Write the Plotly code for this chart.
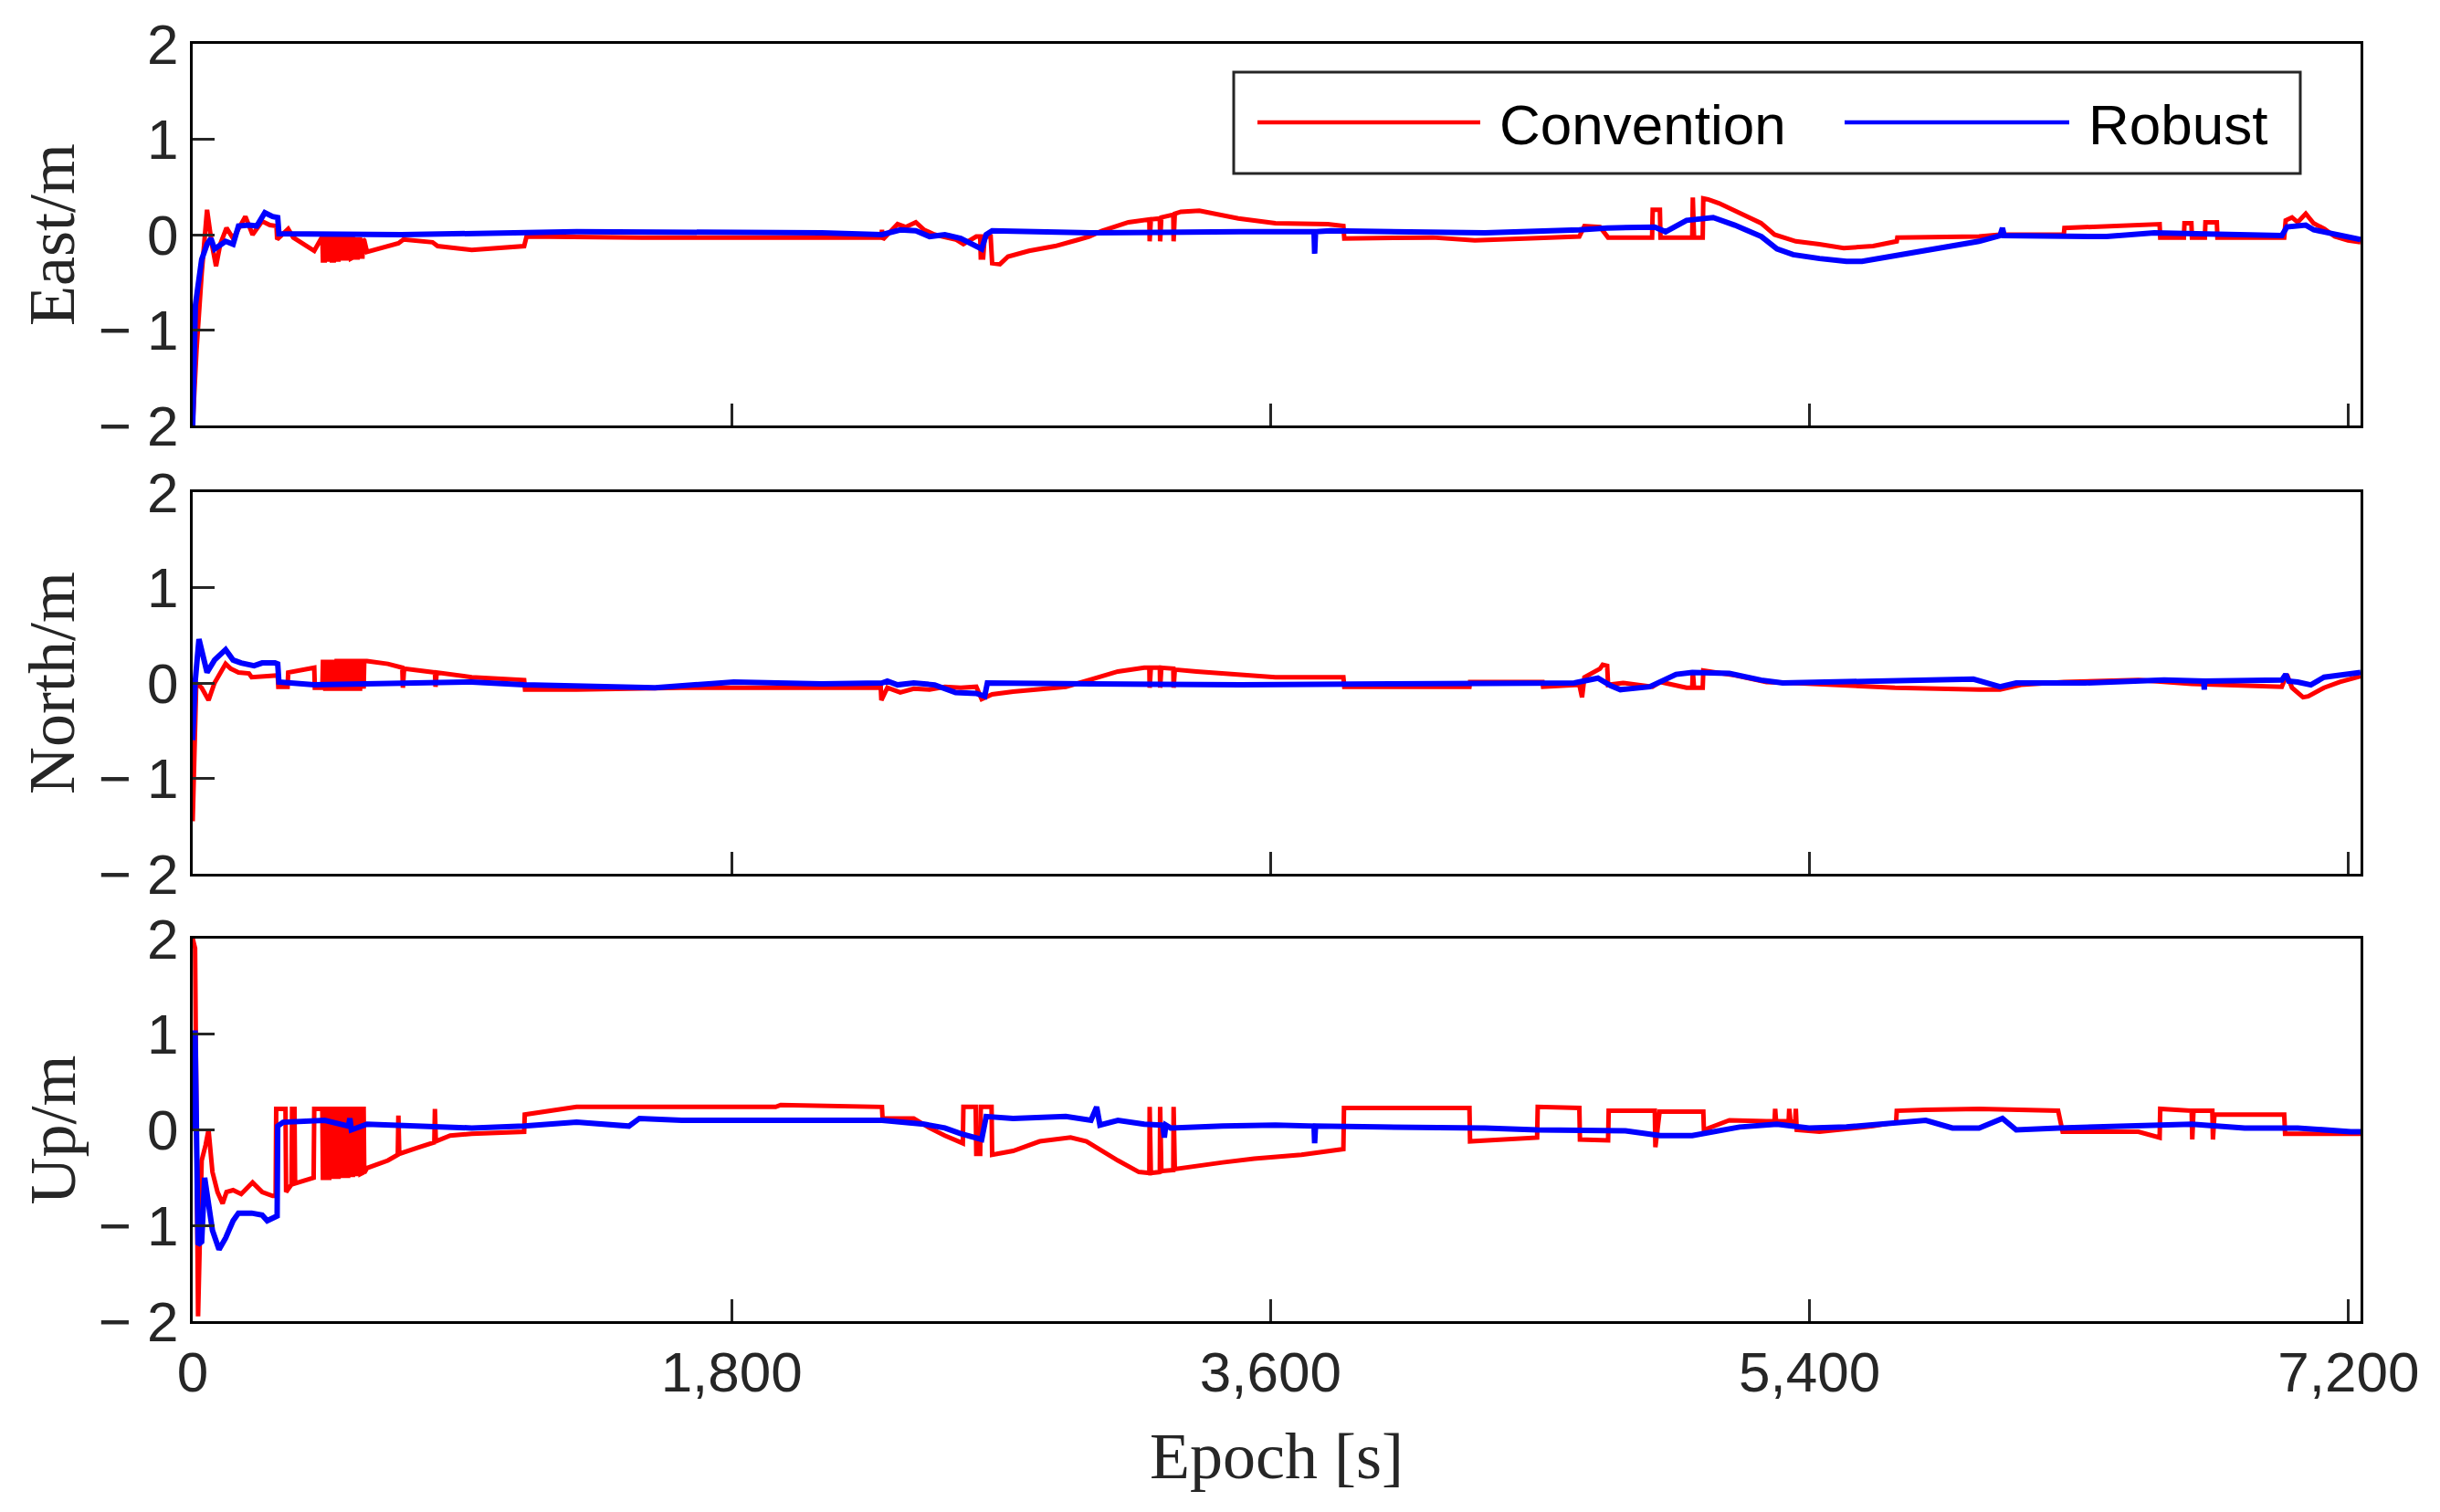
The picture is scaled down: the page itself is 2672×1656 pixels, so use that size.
import plotly.graph_objects as go

# ---------------- data ----------------
series_names = ["Convention", "Robust"]
panel_titles = ["East/m", "North/m", "Up/m"]
x_tickvals = [0, 1800, 3600, 5400, 7200]
x_ticktext = ["0", "1,800", "3,600", "5,400", "7,200"]
y_tickvals = [-2, -1, 0, 1, 2]
y_ticktext = ["\u2212 2", "\u2212 1", "0", "1", "2"]
x_max = 7240

east_conv_t = [0, 13, 30, 48, 64, 78, 92, 113, 135, 176, 200, 232, 258, 280, 282, 319, 336, 406,
               433, 435, 441, 443, 448, 450, 456, 458, 463, 465, 471, 473, 479, 481, 487, 489,
               495, 497, 503, 505, 511, 513, 519, 521, 527, 529, 535, 537, 543, 545, 551, 553,
               559, 561, 567, 569, 573, 582,
               687, 704, 801, 818, 932, 1107, 1115, 1500, 2040, 2300, 2302, 2305, 2354, 2381,
               2415, 2443, 2478, 2548, 2574, 2617, 2630, 2632, 2640, 2645, 2665, 2670, 2696,
               2723, 2793, 2880, 2950, 2994, 3037, 3125, 3195, 3196, 3200, 3230, 3231, 3235,
               3275, 3276, 3280, 3300, 3362, 3423, 3492, 3616, 3791, 3843, 3846, 4141, 4282,
               4450, 4631, 4648, 4700, 4727, 4874, 4876, 4900, 4902, 5008, 5010, 5014, 5043,
               5045, 5061, 5097, 5150, 5238, 5283, 5310, 5354, 5433, 5514, 5612, 5691, 5693,
               5966, 6036, 6249, 6251, 6569, 6571, 6650, 6652, 6675, 6677, 6720, 6722, 6760,
               6762, 6985, 6990, 7011, 7030, 7057, 7083, 7119, 7154, 7198, 7240]
east_conv_v = [-2.0, -1.2, -0.41, 0.26, -0.1, -0.33, -0.1, 0.07, -0.04, 0.19, 0.0, 0.14, 0.10, 0.09, -0.05, 0.06, -0.03, -0.17,
               -0.02, -0.27, -0.27, -0.03, -0.03, -0.26, -0.26, -0.02, -0.02, -0.27, -0.27, -0.03, -0.03, -0.26, -0.26, -0.03,
               -0.03, -0.25, -0.25, -0.03, -0.03, -0.25, -0.25, -0.04, -0.04, -0.25, -0.24, -0.04, -0.05, -0.24, -0.24, -0.05,
               -0.05, -0.23, -0.23, -0.05, -0.06, -0.18,
               -0.09, -0.05, -0.08, -0.12, -0.16, -0.12, -0.02, -0.03, -0.03, -0.03, 0.05, -0.05, 0.11, 0.08,
               0.13, 0.05, 0.0, -0.05, -0.1, -0.02, -0.02, -0.24, -0.24, -0.02, -0.02, -0.3, -0.31,
               -0.23, -0.17, -0.12, -0.06, -0.02, 0.04, 0.13, 0.16, -0.07, 0.16, 0.17, -0.07, 0.18,
               0.21, -0.07, 0.22, 0.24, 0.25, 0.21, 0.17, 0.12, 0.11, 0.09, -0.04, -0.03, -0.06,
               -0.04, -0.02, 0.09, 0.08, -0.03, -0.03, 0.26, 0.26, -0.03, -0.03, 0.39, -0.03, -0.03,
               0.38, 0.37, 0.33, 0.25, 0.12, 0.0, -0.03, -0.07, -0.10, -0.14, -0.12, -0.07, -0.03,
               -0.02, 0.0, 0.0, 0.07, 0.11, -0.03, -0.03, 0.12, 0.12, -0.03, -0.03, 0.13, 0.13,
               -0.03, -0.03, 0.15, 0.18, 0.13, 0.22, 0.12, 0.06, -0.02, -0.06, -0.08]

east_rob_t = [0, 9, 30, 48, 61, 73, 110, 135, 153, 188, 214, 241, 267, 284, 288, 696, 1282, 2101,
              2302, 2363, 2415, 2461, 2512, 2565, 2635, 2650, 2670, 3000, 3500, 3745, 3747, 3750,
              3800, 4316, 4631, 4724, 4883, 4919, 4989, 5078, 5150, 5239, 5291, 5345, 5433, 5523,
              5575, 5699, 5824, 5966, 6036, 6044, 6050, 6249, 6392, 6551, 6977, 6994, 7057, 7084,
              7207, 7240]
east_rob_v = [-2.0, -0.74, -0.26, -0.1, -0.04, -0.15, -0.07, -0.1, 0.09, 0.1, 0.09, 0.23, 0.19, 0.18, 0.01, 0.0, 0.03, 0.02,
              0.0, 0.05, 0.04, -0.02, 0.0, -0.04, -0.15, 0.0, 0.04, 0.02, 0.03, 0.03, -0.2, 0.03,
              0.04, 0.02, 0.05, 0.07, 0.08, 0.03, 0.15, 0.18, 0.1, -0.02, -0.15, -0.21, -0.25, -0.28,
              -0.28, -0.21, -0.15, -0.07, -0.01, 0.07, -0.01, -0.01, -0.02, 0.02, -0.01, 0.08, 0.1, 0.05,
              -0.02, -0.05]

north_conv_t = [0, 12, 30, 53, 73, 110, 127, 153, 188, 197, 284, 286, 317, 319, 406, 408,
                433, 435, 441, 443, 448, 450, 456, 458, 463, 465, 471, 473, 479, 481, 487, 489,
                495, 497, 503, 505, 511, 513, 519, 521, 527, 529, 535, 537, 543, 545, 551, 553,
                559, 561, 567, 569, 571, 573,
                582, 652, 700, 702, 706, 809, 811, 815, 932, 1107, 1110, 1282, 1633, 2101,
                2298, 2300, 2320, 2363, 2408, 2461, 2512, 2565, 2617, 2635, 2670, 2740, 2916,
                3003, 3090, 3178, 3195, 3196, 3200, 3230, 3231, 3235, 3275, 3276, 3280, 3353,
                3476, 3616, 3843, 3846, 4264, 4266, 4508, 4510, 4631, 4640, 4648, 4700, 4709,
                4724, 4727, 4777, 4875, 4902, 4989, 5008, 5010, 5014, 5043, 5045, 5150, 5256,
                5345, 5683, 5685, 5966, 6036, 6106, 6249, 6498, 6676, 6977, 6994, 7011, 7048,
                7065, 7118, 7171, 7240]
north_conv_v = [-1.45, 0.0, -0.05, -0.18, 0.0, 0.2, 0.15, 0.11, 0.1, 0.06, 0.08, -0.04, -0.04, 0.11, 0.16, -0.05,
                -0.05, 0.22, 0.22, -0.06, -0.06, 0.22, 0.22, -0.06, -0.06, 0.22, 0.22, -0.06, -0.06, 0.23, 0.23, -0.06,
                -0.06, 0.23, 0.23, -0.06, -0.06, 0.23, 0.23, -0.06, -0.06, 0.23, 0.23, -0.06, -0.06, 0.23, 0.23, -0.06,
                -0.06, 0.23, 0.23, -0.06, -0.06, 0.23,
                0.23, 0.2, 0.16, -0.05, 0.15, 0.11, -0.04, 0.11, 0.06, 0.03, -0.07, -0.07, -0.05, -0.05,
                -0.05, -0.18, -0.05, -0.1, -0.06, -0.07, -0.04, -0.05, -0.04, -0.17, -0.12, -0.09, -0.04,
                0.04, 0.12, 0.16, 0.16, -0.05, 0.16, 0.16, -0.05, 0.16, 0.15, -0.05, 0.14, 0.12,
                0.09, 0.06, 0.06, -0.04, -0.04, 0.01, 0.01, -0.04, -0.02, -0.15, 0.06, 0.15, 0.19,
                0.18, -0.02, 0.0, -0.04, 0.01, -0.05, -0.05, 0.13, -0.05, -0.05, 0.13, 0.08, 0.01,
                0.0, -0.04, -0.05, -0.07, -0.07, -0.02, 0.01, 0.03, -0.01, -0.04, 0.09, -0.05, -0.15,
                -0.14, -0.05, 0.01, 0.07]

north_rob_t = [0, 8, 21, 48, 73, 110, 135, 162, 205, 232, 275, 284, 288, 406, 932, 1107, 1544,
               1807, 2101, 2302, 2320, 2354, 2408, 2478, 2548, 2617, 2645, 2654, 3000, 3500,
               4000, 4614, 4693, 4736, 4768, 4866, 4954, 5008, 5132, 5238, 5310, 5433, 5788,
               5947, 6036, 6090, 6319, 6584, 6716, 6718, 6720, 6977, 6990, 7000, 7030, 7074,
               7118, 7240]
north_rob_v = [-0.6, 0.0, 0.46, 0.11, 0.24, 0.35, 0.24, 0.21, 0.18, 0.21, 0.21, 0.2, 0.01, -0.02, 0.01, -0.02, -0.05,
               0.01, -0.01, 0.0, 0.02, -0.02, 0.0, -0.02, -0.1, -0.11, -0.14, 0.0, -0.01, -0.02,
               -0.01, 0.0, 0.05, -0.03, -0.07, -0.04, 0.09, 0.11, 0.1, 0.03, 0.0, 0.01, 0.03,
               0.04, -0.04, 0.0, 0.0, 0.03, 0.02, -0.07, 0.02, 0.03, 0.09, 0.02, 0.01, -0.02,
               0.06, 0.11]

up_conv_t = [0, 8, 18, 30, 43, 53, 66, 83, 100, 113, 135, 162, 200, 232, 267, 277, 279, 310,
             312, 330, 332, 340, 342, 404, 406,
             433, 435, 441, 443, 448, 450, 456, 458, 463, 465, 471, 473, 479, 481, 487, 489,
             495, 497, 503, 505, 511, 513, 519, 521, 527, 529, 535, 537, 543, 545, 551, 553,
             559, 561, 567, 569, 571, 573,
             582, 652, 685, 687, 690,
             757, 807, 809, 812, 860, 932, 1107, 1109, 1282, 1633, 1947, 1964, 2101, 2302,
             2304, 2408, 2461, 2512, 2572, 2574, 2615, 2617, 2630, 2632, 2668, 2670, 2740,
             2829, 2932, 2985, 3090, 3160, 3195, 3196, 3200, 3230, 3231, 3235, 3275, 3276,
             3280, 3300, 3440, 3545, 3703, 3843, 3845, 4264, 4266, 4490, 4492, 4631, 4633,
             4727, 4729, 4883, 4885, 4899, 5045, 5047, 5132, 5256, 5283, 5285, 5288, 5330,
             5332, 5336, 5352, 5354, 5357, 5433, 5612, 5689, 5691, 5788, 5966, 6230, 6245,
             6498, 6569, 6571, 6676, 6678, 6682, 6745, 6747, 6752, 6985, 6988, 7240]
up_conv_v = [2.0, 1.9, -1.95, -0.32, -0.16, 0.0, -0.44, -0.65, -0.77, -0.65, -0.63, -0.67, -0.55, -0.65, -0.69, -0.69, 0.22, 0.22,
             -0.65, -0.57, 0.22, 0.22, -0.56, -0.5, 0.22,
             0.22, -0.5, -0.5, 0.22, 0.22, -0.5, -0.5, 0.22, 0.22, -0.49, -0.49, 0.22, 0.22, -0.49, -0.49, 0.22,
             0.22, -0.48, -0.48, 0.22, 0.22, -0.48, -0.48, 0.22, 0.22, -0.47, -0.47, 0.22, 0.22, -0.46, -0.46, 0.22,
             0.22, -0.46, -0.45, 0.22, 0.22, -0.45,
             -0.4, -0.32, -0.26, 0.15, -0.25,
             -0.18, -0.13, 0.22, -0.12, -0.06, -0.04, -0.02, 0.16, 0.24, 0.24, 0.24, 0.26, 0.25, 0.24,
             0.12, 0.12, 0.02, -0.06, -0.14, 0.24, 0.24, -0.25, -0.25, 0.24, 0.24, -0.26, -0.22,
             -0.12, -0.08, -0.12, -0.32, -0.44, -0.45, 0.24, -0.45, -0.44, 0.24, -0.43, -0.42, 0.24,
             -0.41, -0.4, -0.34, -0.3, -0.26, -0.2, 0.23, 0.23, -0.12, -0.08, 0.24, 0.23, -0.1,
             -0.11, 0.2, 0.2, -0.18, 0.19, 0.19, 0.0, 0.1, 0.09, 0.09, 0.22, 0.09, 0.09,
             0.22, 0.09, 0.08, 0.22, 0.0, -0.02, 0.04, 0.08, 0.2, 0.21, 0.22, 0.2, -0.02,
             -0.02, -0.08, 0.22, 0.2, -0.1, 0.2, 0.2, -0.1, 0.16, 0.16, -0.04, -0.04]

up_rob_t = [0, 8, 18, 30, 40, 53, 66, 88, 110, 135, 153, 197, 232, 249, 275, 282, 284, 302, 441,
            520, 525, 530, 582, 757, 932, 1107, 1282, 1457, 1492, 1633, 2101, 2302, 2443, 2512,
            2565, 2635, 2650, 2740, 2916, 3000, 3019, 3030, 3090, 3178, 3240, 3245, 3250, 3266,
            3440, 3616, 3745, 3747, 3750, 3791, 3965, 4316, 4490, 4785, 4901, 5008, 5166, 5291,
            5398, 5523, 5691, 5788, 5877, 5966, 6044, 6090, 6230, 6498, 6676, 6853, 7030, 7207,
            7240]
up_rob_v = [0.0, 1.04, -1.2, -1.17, -0.5, -0.8, -1.05, -1.25, -1.13, -0.95, -0.87, -0.87, -0.89, -0.95, -0.91, -0.9, 0.04, 0.08, 0.1,
            0.04, 0.12, 0.0, 0.06, 0.04, 0.02, 0.04, 0.08, 0.04, 0.12, 0.1, 0.1, 0.1, 0.06, 0.02,
            -0.04, -0.1, 0.14, 0.12, 0.14, 0.1, 0.24, 0.05, 0.1, 0.06, 0.05, -0.08, 0.05, 0.02,
            0.04, 0.05, 0.04, -0.14, 0.04, 0.04, 0.03, 0.02, 0.0, -0.01, -0.06, -0.06, 0.03, 0.06,
            0.02, 0.03, 0.08, 0.1, 0.02, 0.02, 0.12, 0.0, 0.02, 0.04, 0.06, 0.02, 0.02, -0.02,
            -0.02]

# ---------------- layout geometry (pixels) ----------------
W, H = 2672, 1656
ML, MR, MT, MB = 211, 87, 48, 209
PW, PH = W - ML - MR, H - MT - MB
panel_px = [(48, 466), (539, 957), (1028, 1447)]   # top, bottom in pixels

def py(p):
    return (H - MB - p) / PH

def px(p):
    return (p - ML) / PW

RED = "#ff0000"
BLUE = "#0000ff"
LW_RED, LW_BLUE, LW_LEG = 5, 6, 4.5
TICK_FONT = dict(family="Liberation Sans, Arial, sans-serif", size=62, color="#262626")
TITLE_FONT = dict(family="Liberation Serif, Times New Roman, serif", size=72, color="#262626")

fig = go.Figure()
data = [
    (east_conv_t, east_conv_v, east_rob_t, east_rob_v),
    (north_conv_t, north_conv_v, north_rob_t, north_rob_v),
    (up_conv_t, up_conv_v, up_rob_t, up_rob_v),
]
for i, (ct, cv, rt, rv) in enumerate(data):
    sfx = "" if i == 0 else str(i + 1)
    fig.add_trace(go.Scatter(x=ct, y=cv, mode="lines", name=series_names[0],
                             line=dict(color=RED, width=LW_RED), xaxis="x" + sfx, yaxis="y" + sfx,
                             showlegend=False))
    fig.add_trace(go.Scatter(x=rt, y=rv, mode="lines", name=series_names[1],
                             line=dict(color=BLUE, width=LW_BLUE), xaxis="x" + sfx, yaxis="y" + sfx,
                             showlegend=False))

axis_common = dict(showgrid=False, zeroline=False, showline=True, mirror=True,
                   linecolor="black", linewidth=3, ticks="inside", ticklen=24,
                   tickwidth=3, tickcolor="#262626", tickfont=TICK_FONT)

layout = dict(width=W, height=H, margin=dict(l=ML, r=MR, t=MT, b=MB, pad=0),
              paper_bgcolor="white", plot_bgcolor="white", showlegend=False)
for i in range(3):
    sfx = "" if i == 0 else str(i + 1)
    top, bot = panel_px[i]
    layout["xaxis" + sfx] = dict(axis_common, domain=[0, 1], anchor="y" + sfx,
                                 range=[0, x_max], tickmode="array", tickvals=x_tickvals,
                                 ticktext=x_ticktext, showticklabels=(i == 2))
    layout["yaxis" + sfx] = dict(axis_common, domain=[py(bot), py(top)], anchor="x" + sfx,
                                 range=[-2, 2], tickmode="array", tickvals=y_tickvals,
                                 ticktext=y_ticktext)
fig.update_layout(**layout)

annotations = []
for i in range(3):
    top, bot = panel_px[i]
    annotations.append(dict(text=panel_titles[i], xref="paper", yref="paper",
                            x=px(57), y=py((top + bot) / 2), xanchor="center", yanchor="middle",
                            textangle=-90, showarrow=False, font=TITLE_FONT))
annotations.append(dict(text="Epoch [s]", xref="paper", yref="paper", x=px(1398), y=py(1595),
                        xanchor="center", yanchor="middle", showarrow=False, font=TITLE_FONT))

# legend drawn as box + line samples + labels
LEG_FONT = dict(family="Liberation Sans, Arial, sans-serif", size=62, color="black")
shapes = [
    dict(type="rect", xref="paper", yref="paper", x0=px(1351), x1=px(2519), y0=py(190), y1=py(79),
         line=dict(color="#262626", width=3), fillcolor="white", layer="above"),
    dict(type="line", xref="paper", yref="paper", x0=px(1377), x1=px(1621), y0=py(134), y1=py(134),
         line=dict(color=RED, width=LW_LEG), layer="above"),
    dict(type="line", xref="paper", yref="paper", x0=px(2020), x1=px(2266), y0=py(134), y1=py(134),
         line=dict(color=BLUE, width=LW_LEG), layer="above"),
]
annotations.append(dict(text=series_names[0], xref="paper", yref="paper", x=px(1640), y=py(136),
                        xanchor="left", yanchor="middle", showarrow=False, font=LEG_FONT))
annotations.append(dict(text=series_names[1], xref="paper", yref="paper", x=px(2285), y=py(136),
                        xanchor="left", yanchor="middle", showarrow=False, font=LEG_FONT))
fig.update_layout(annotations=annotations, shapes=shapes)

fig.write_html("out.html")
